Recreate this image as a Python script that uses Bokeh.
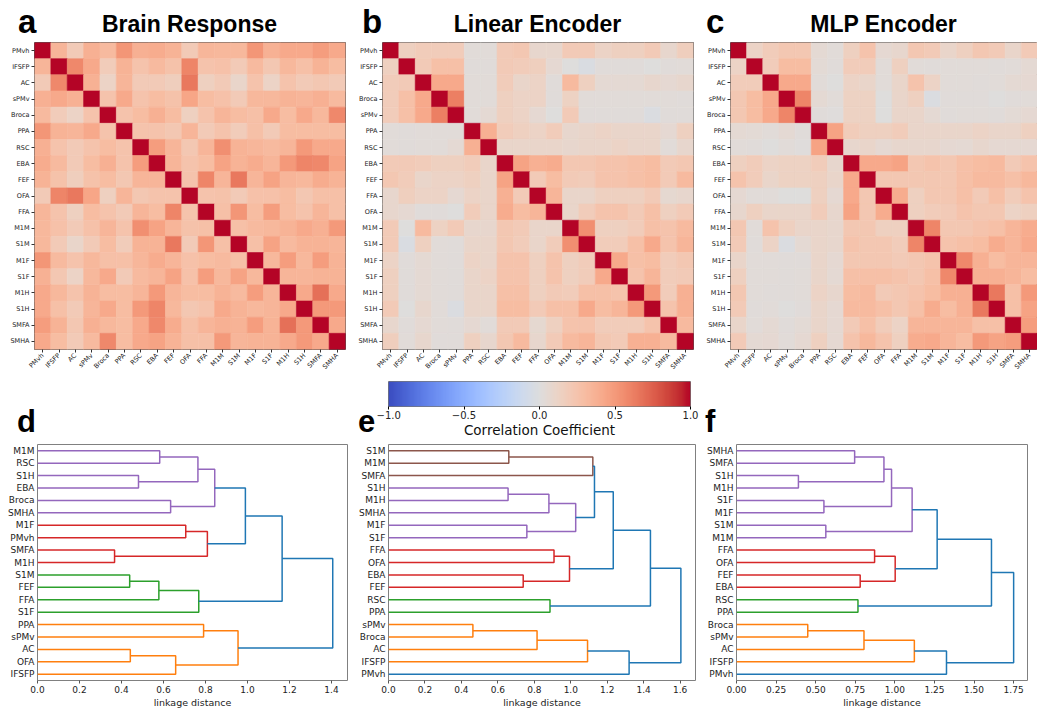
import numpy as np
from bokeh.plotting import figure
from bokeh.models import (ColumnDataSource, LinearColorMapper, FactorRange, Range1d,
                          FixedTicker, NumeralTickFormatter, Div)
from bokeh.layouts import column, row
from bokeh.embed import file_html
from bokeh.resources import INLINE

# ---------------- data ----------------
brain_labels = ["PMvh", "IFSFP", "AC", "sPMv", "Broca", "PPA", "RSC", "EBA", "FEF", "OFA",
                "FFA", "M1M", "S1M", "M1F", "S1F", "M1H", "S1H", "SMFA", "SMHA"]
linear_labels = ["PMvh", "IFSFP", "AC", "Broca", "sPMv", "PPA", "RSC", "EBA", "FEF", "FFA",
                 "OFA", "M1M", "S1M", "M1F", "S1F", "M1H", "S1H", "SMFA", "SMHA"]
mlp_labels = ["PMvh", "IFSFP", "AC", "sPMv", "Broca", "PPA", "RSC", "EBA", "FEF", "OFA",
              "FFA", "M1M", "S1M", "M1F", "S1F", "M1H", "S1H", "SMFA", "SMHA"]

panel_letters = ["a", "b", "c", "d", "e", "f"]
panel_titles = ["Brain Response", "Linear Encoder", "MLP Encoder"]

# upper triangles (row i holds correlations with the later columns)
brain_upper = [
    [0.35, 0.20, 0.38, 0.32, 0.52, 0.38, 0.40, 0.36, 0.20, 0.34, 0.33, 0.33, 0.52, 0.37, 0.42, 0.42, 0.48, 0.42],
    [0.58, 0.42, 0.18, 0.36, 0.25, 0.32, 0.26, 0.60, 0.25, 0.27, 0.20, 0.32, 0.22, 0.33, 0.28, 0.36, 0.30],
    [0.37, 0.12, 0.35, 0.20, 0.20, 0.17, 0.65, 0.15, 0.20, 0.10, 0.25, 0.12, 0.25, 0.20, 0.22, 0.20],
    [0.25, 0.42, 0.25, 0.30, 0.26, 0.43, 0.30, 0.27, 0.20, 0.33, 0.33, 0.36, 0.35, 0.38, 0.32],
    [0.25, 0.30, 0.38, 0.30, 0.15, 0.25, 0.35, 0.30, 0.28, 0.42, 0.30, 0.42, 0.33, 0.58],
    [0.25, 0.25, 0.22, 0.35, 0.20, 0.25, 0.18, 0.28, 0.20, 0.30, 0.30, 0.30, 0.30],
    [0.48, 0.35, 0.22, 0.35, 0.55, 0.36, 0.34, 0.32, 0.35, 0.50, 0.42, 0.42],
    [0.35, 0.25, 0.30, 0.45, 0.36, 0.40, 0.35, 0.50, 0.60, 0.58, 0.45],
    [0.25, 0.60, 0.35, 0.65, 0.35, 0.45, 0.35, 0.33, 0.40, 0.36],
    [0.25, 0.26, 0.20, 0.27, 0.27, 0.30, 0.22, 0.28, 0.28],
    [0.28, 0.52, 0.30, 0.48, 0.30, 0.25, 0.35, 0.28],
    [0.28, 0.32, 0.33, 0.36, 0.42, 0.38, 0.50],
    [0.28, 0.45, 0.32, 0.36, 0.36, 0.35],
    [0.33, 0.48, 0.33, 0.48, 0.36],
    [0.35, 0.35, 0.36, 0.36],
    [0.42, 0.68, 0.42],
    [0.50, 0.50],
    [0.42],
]
linear_upper = [
    [0.15, 0.18, 0.18, 0.18, 0.03, 0.03, 0.20, 0.22, 0.08, 0.08, 0.20, 0.20, 0.12, 0.15, 0.15, 0.20, 0.08, 0.17],
    [0.20, 0.28, 0.28, 0.02, 0.02, 0.20, 0.18, 0.16, 0.06, 0.00, -0.03, 0.02, 0.02, 0.02, 0.00, 0.02, 0.03],
    [0.42, 0.42, 0.03, 0.03, 0.18, 0.10, 0.12, 0.02, 0.32, 0.15, 0.05, 0.05, 0.05, 0.08, 0.06, 0.08],
    [0.62, 0.03, 0.03, 0.15, 0.12, 0.12, 0.02, 0.14, 0.03, 0.03, 0.03, 0.03, 0.03, 0.03, 0.02],
    [0.03, 0.05, 0.15, 0.12, 0.06, 0.00, 0.20, 0.02, 0.02, 0.02, 0.02, -0.02, 0.02, 0.02],
    [0.38, 0.18, 0.15, 0.12, 0.18, 0.08, 0.10, 0.12, 0.10, 0.10, 0.10, 0.06, 0.15],
    [0.10, 0.10, 0.10, 0.10, 0.08, 0.10, 0.10, 0.12, 0.10, 0.10, 0.03, 0.08],
    [0.45, 0.38, 0.40, 0.22, 0.22, 0.25, 0.25, 0.28, 0.30, 0.20, 0.22],
    [0.20, 0.30, 0.20, 0.18, 0.25, 0.25, 0.28, 0.30, 0.20, 0.32],
    [0.35, 0.10, 0.10, 0.15, 0.15, 0.15, 0.20, 0.07, 0.08],
    [0.10, 0.18, 0.25, 0.25, 0.20, 0.28, 0.15, 0.20],
    [0.55, 0.15, 0.15, 0.18, 0.28, 0.25, 0.32],
    [0.18, 0.18, 0.28, 0.42, 0.25, 0.35],
    [0.42, 0.28, 0.30, 0.18, 0.22],
    [0.25, 0.35, 0.18, 0.20],
    [0.50, 0.18, 0.38],
    [0.25, 0.38],
    [0.32],
]
mlp_upper = [
    [0.12, 0.18, 0.22, 0.22, 0.05, 0.03, 0.15, 0.25, 0.06, 0.08, 0.22, 0.20, 0.10, 0.15, 0.22, 0.20, 0.10, 0.20],
    [0.18, 0.30, 0.30, 0.04, 0.02, 0.18, 0.18, 0.03, 0.15, 0.03, 0.02, 0.03, 0.03, 0.03, 0.02, 0.03, 0.05],
    [0.42, 0.42, 0.03, 0.00, 0.12, 0.10, 0.03, 0.10, 0.25, 0.12, 0.03, 0.03, 0.02, 0.03, 0.05, 0.06],
    [0.60, 0.05, 0.03, 0.14, 0.14, 0.00, 0.10, 0.15, -0.02, 0.02, 0.02, 0.02, 0.00, 0.02, 0.03],
    [0.02, 0.01, 0.14, 0.14, 0.00, 0.10, 0.10, 0.05, 0.02, 0.03, 0.03, 0.02, 0.04, 0.06],
    [0.45, 0.18, 0.15, 0.15, 0.18, 0.10, 0.10, 0.10, 0.10, 0.12, 0.10, 0.10, 0.15],
    [0.08, 0.10, 0.06, 0.08, 0.08, 0.08, 0.06, 0.05, 0.08, 0.06, 0.06, 0.06],
    [0.42, 0.42, 0.45, 0.22, 0.25, 0.22, 0.28, 0.30, 0.32, 0.20, 0.25],
    [0.22, 0.22, 0.22, 0.22, 0.22, 0.28, 0.32, 0.32, 0.28, 0.33],
    [0.40, 0.15, 0.22, 0.22, 0.28, 0.20, 0.28, 0.18, 0.25],
    [0.15, 0.18, 0.20, 0.25, 0.22, 0.22, 0.12, 0.15],
    [0.60, 0.22, 0.22, 0.25, 0.28, 0.35, 0.40],
    [0.25, 0.28, 0.30, 0.40, 0.35, 0.42],
    [0.58, 0.38, 0.30, 0.35, 0.35],
    [0.38, 0.38, 0.35, 0.30],
    [0.65, 0.28, 0.50],
    [0.28, 0.45],
    [0.48],
]

# dendrograms: leaves listed top to bottom, merges as (left, right, height, colour group)
brain_leaves = ["M1M", "RSC", "S1H", "EBA", "Broca", "SMHA", "M1F", "PMvh", "SMFA", "M1H",
                "S1M", "FEF", "FFA", "S1F", "PPA", "sPMv", "AC", "OFA", "IFSFP"]
brain_left = ["M1M", "S1H", "#0", "Broca", "#2", "M1F", "SMFA", "#5", "#4", "S1M", "#9", "#10",
              "#8", "PPA", "AC", "#14", "#13", "#12"]
brain_right = ["RSC", "EBA", "#1", "SMHA", "#3", "PMvh", "M1H", "#6", "#7", "FEF", "FFA", "S1F",
               "#11", "sPMv", "OFA", "IFSFP", "#15", "#16"]
brain_height = [0.582, 0.481, 0.764, 0.634, 0.844, 0.706, 0.367, 0.809, 0.990, 0.439, 0.578, 0.768,
                1.165, 0.791, 0.442, 0.658, 0.955, 1.406]
brain_group = ["C4", "C4", "C4", "C4", "C4", "C3", "C3", "C3", "C0", "C2", "C2", "C2",
               "C0", "C1", "C1", "C1", "C1", "C0"]
brain_ticks = [0.0, 0.2, 0.4, 0.6, 0.8, 1.0, 1.2, 1.4]

linear_leaves = ["S1M", "M1M", "SMFA", "S1H", "M1H", "SMHA", "M1F", "S1F", "FFA", "OFA",
                 "EBA", "FEF", "RSC", "PPA", "sPMv", "Broca", "AC", "IFSFP", "PMvh"]
linear_left = ["S1M", "#0", "S1H", "#2", "M1F", "#3", "#1", "FFA", "EBA", "#7", "#6", "RSC",
               "#10", "sPMv", "#13", "#14", "#15", "#12"]
linear_right = ["M1M", "SMFA", "M1H", "SMHA", "S1F", "#4", "#5", "OFA", "FEF", "#8", "#9", "PPA",
                "#11", "Broca", "AC", "IFSFP", "PMvh", "#16"]
linear_height = [0.660, 1.121, 0.656, 0.880, 0.759, 1.027, 1.130, 0.908, 0.739, 0.993, 1.233, 0.886,
                 1.437, 0.463, 0.815, 1.092, 1.320, 1.604]
linear_group = ["C5", "C5", "C4", "C4", "C4", "C4", "C0", "C3", "C3", "C3", "C0", "C2",
                "C0", "C1", "C1", "C1", "C0", "C0"]
linear_ticks = [0.0, 0.2, 0.4, 0.6, 0.8, 1.0, 1.2, 1.4, 1.6]

mlp_leaves = ["SMHA", "SMFA", "S1H", "M1H", "S1F", "M1F", "S1M", "M1M", "FFA", "OFA",
              "FEF", "EBA", "RSC", "PPA", "Broca", "sPMv", "AC", "IFSFP", "PMvh"]
mlp_left = ["SMHA", "S1H", "#0", "S1F", "#2", "S1M", "#4", "FFA", "FEF", "#7", "#6", "RSC",
            "#10", "Broca", "#13", "#14", "#15", "#12"]
mlp_right = ["SMFA", "M1H", "#1", "M1F", "#3", "M1M", "#5", "OFA", "EBA", "#8", "#9", "PPA",
             "#11", "sPMv", "AC", "IFSFP", "PMvh", "#16"]
mlp_height = [0.746, 0.391, 0.931, 0.552, 0.979, 0.564, 1.109, 0.872, 0.781, 1.002, 1.267, 0.767,
              1.610, 0.450, 0.805, 1.123, 1.326, 1.750]
mlp_group = ["C4", "C4", "C4", "C4", "C4", "C4", "C4", "C3", "C3", "C3", "C0", "C2",
             "C0", "C1", "C1", "C1", "C0", "C0"]
mlp_ticks = [0.0, 0.25, 0.5, 0.75, 1.0, 1.25, 1.5, 1.75]

cbar_ticks = [-1.0, -0.5, 0.0, 0.5, 1.0]
cbar_tick_labels = ["\u22121.0", "\u22120.5", "0.0", "0.5", "1.0"]

# ---------------- styling helpers ----------------
TAB = {"C0": "#1f77b4", "C1": "#ff7f0e", "C2": "#2ca02c", "C3": "#d62728",
       "C4": "#9467bd", "C5": "#8c564b"}

CW = [(59, 76, 192), (68, 90, 204), (77, 104, 215), (87, 117, 225), (98, 130, 234),
      (108, 142, 241), (119, 154, 247), (130, 165, 251), (141, 176, 254), (152, 185, 255),
      (163, 194, 255), (174, 201, 253), (184, 208, 249), (194, 213, 244), (204, 217, 238),
      (213, 219, 230), (221, 221, 221), (229, 216, 209), (236, 211, 197), (241, 204, 185),
      (245, 196, 173), (247, 187, 160), (247, 177, 148), (247, 166, 135), (244, 154, 123),
      (241, 141, 111), (236, 127, 99), (229, 112, 88), (222, 96, 77), (213, 80, 66),
      (203, 62, 56), (192, 40, 47), (180, 4, 38)]


def coolwarm(n=256):
    arr = np.array(CW, float)
    t = np.linspace(0, 1, len(arr))
    out = []
    for v in np.linspace(0, 1, n):
        r, g, b = (np.interp(v, t, arr[:, k]) for k in range(3))
        out.append("#%02x%02x%02x" % (int(round(r)), int(round(g)), int(round(b))))
    return out


mapper = LinearColorMapper(palette=coolwarm(), low=-1, high=1)


def text_strip(width, height, items):
    """items: (left, top, font px, text, box width or None)"""
    spans = []
    for left, top, size, txt, box in items:
        extra = ("width:%dpx;text-align:center;" % box) if box else ""
        spans.append('<span style="position:absolute;left:%.1fpx;top:%.1fpx;font-size:%dpx;'
                     'line-height:%dpx;white-space:nowrap;%s">%s</span>'
                     % (left, top, size, size, extra, txt))
    html = ('<div style="position:relative;width:%dpx;height:%dpx;'
            "font-family:'Liberation Sans',Arial,sans-serif;font-weight:bold;color:#000;\">"
            % (width, height)) + "".join(spans) + "</div>"
    return Div(text=html, width=width, height=height, margin=(0, 0, 0, 0))


def full_matrix(upper):
    n = len(upper) + 1
    m = np.eye(n)
    for i, r in enumerate(upper):
        for k, v in enumerate(r):
            j = i + 1 + k
            m[i, j] = v
            m[j, i] = v
    return m


def heatmap(labels, upper, width, left, right):
    m = full_matrix(upper)
    xs, ys, vs = [], [], []
    for i, a in enumerate(labels):
        for j, b in enumerate(labels):
            xs.append(b)
            ys.append(a)
            vs.append(float(m[i, j]))
    src = ColumnDataSource(dict(x=xs, y=ys, v=vs))
    p = figure(width=width, height=335, x_range=FactorRange(factors=list(labels)),
               y_range=FactorRange(factors=list(labels)[::-1]), output_backend="svg",
               toolbar_location=None, min_border_left=left, min_border_right=right,
               min_border_top=1, min_border_bottom=23)
    p.rect(x="x", y="y", width=1, height=1, source=src,
           fill_color={"field": "v", "transform": mapper},
           line_color={"field": "v", "transform": mapper}, line_width=0.6)
    p.grid.grid_line_color = None
    p.outline_line_color = "#555555"
    p.axis.axis_line_color = None
    p.axis.major_tick_out = 3
    p.axis.major_tick_in = 0
    p.axis.major_tick_line_color = "#333333"
    p.axis.major_label_standoff = 2
    p.axis.major_label_text_font = "DejaVu Sans"
    p.axis.major_label_text_font_size = "6.5px"
    p.axis.major_label_text_color = "#222222"
    p.xaxis.major_label_orientation = np.pi / 4
    return p


def dendro(leaves, lefts, rights, heights, groups, ticks, fmt, width, lb, rb):
    n = len(leaves)
    ypos = {name: 10 * (n - 1 - i) + 5 for i, name in enumerate(leaves)}
    hpos = {name: 0.0 for name in leaves}
    xs, ys, cs = [], [], []
    for k, (a, b, h, g) in enumerate(zip(lefts, rights, heights, groups)):
        ya, yb = ypos[a], ypos[b]
        xs.append([hpos[a], h, h, hpos[b]])
        ys.append([ya, ya, yb, yb])
        cs.append(TAB[g])
        ypos["#%d" % k] = (ya + yb) / 2
        hpos["#%d" % k] = h
    xmax = max(heights) * 1.05
    p = figure(width=width, height=270, x_range=Range1d(0, xmax), y_range=Range1d(0, 10 * n),
               output_backend="svg", toolbar_location=None, min_border_left=lb,
               min_border_right=rb, min_border_top=4, min_border_bottom=27)
    p.multi_line(xs="xs", ys="ys", line_color="c", line_width=1.5,
                 source=ColumnDataSource(dict(xs=xs, ys=ys, c=cs)))
    p.grid.grid_line_color = None
    p.outline_line_color = "#808080"
    p.axis.axis_line_color = None
    p.axis.minor_tick_line_color = None
    p.axis.major_label_text_font = "DejaVu Sans"
    p.axis.major_label_text_font_size = "9px"
    p.axis.major_label_text_color = "#222222"
    p.yaxis.ticker = FixedTicker(ticks=[ypos[nm] for nm in leaves])
    p.yaxis.major_label_overrides = {ypos[nm]: nm for nm in leaves}
    p.yaxis.major_tick_out = 0
    p.yaxis.major_tick_in = 0
    p.yaxis.major_label_standoff = 3
    p.xaxis.ticker = FixedTicker(ticks=ticks)
    p.xaxis.formatter = NumeralTickFormatter(format=fmt)
    p.xaxis.major_tick_out = 3
    p.xaxis.major_tick_in = 0
    p.xaxis.major_tick_line_color = "#555555"
    p.xaxis.major_label_standoff = 2
    p.xaxis.axis_label = "linkage distance"
    p.xaxis.axis_label_text_font = "DejaVu Sans"
    p.xaxis.axis_label_text_font_size = "9.5px"
    p.xaxis.axis_label_text_font_style = "normal"
    p.xaxis.axis_label_text_color = "#222222"
    p.xaxis.axis_label_standoff = 1
    return p


# ---------------- title strip (baseline at y = 32) ----------------
top = text_strip(1037, 41, [
    (18, 5, 33, panel_letters[0], None),
    (189.5 - 150, 12.5, 23, panel_titles[0], 300),
    (362, 5, 33, panel_letters[1], None),
    (537.5 - 150, 12.5, 23, panel_titles[1], 300),
    (706, 5, 33, panel_letters[2], None),
    (883.5 - 150, 12.5, 23, panel_titles[2], 300),
])

# ---------------- heatmaps ----------------
pa = heatmap(brain_labels, brain_upper, 354, 34, 9)
pb = heatmap(linear_labels, linear_upper, 348, 28, 9)
pc = heatmap(mlp_labels, mlp_upper, 335, 28, 0)

# ---------------- colorbar row (letters baseline at page y = 432) ----------------
left_mid = text_strip(376, 64, [(17, 30, 31, panel_letters[3], None),
                                (358, 30, 31, panel_letters[4], None)])
right_mid = text_strip(335, 64, [(3, 30, 31, panel_letters[5], None)])

cb = figure(width=326, height=64, x_range=Range1d(-1, 1), y_range=Range1d(0, 1),
            output_backend="svg", toolbar_location=None,
            min_border_left=12, min_border_right=12, min_border_top=5, min_border_bottom=34)
cb.image(image=[np.linspace(-1, 1, 256).reshape(1, 256)], x=-1, y=0, dw=2, dh=1,
         color_mapper=mapper)
cb.yaxis.visible = False
cb.grid.grid_line_color = None
cb.outline_line_color = "#777777"
cb.xaxis.axis_line_color = None
cb.xaxis.ticker = FixedTicker(ticks=cbar_ticks)
cb.xaxis.major_label_overrides = {t: s for t, s in zip(cbar_ticks, cbar_tick_labels)}
cb.xaxis.major_tick_out = 3
cb.xaxis.major_tick_in = 0
cb.xaxis.minor_tick_line_color = None
cb.xaxis.major_label_standoff = 1
cb.xaxis.major_label_text_font = "DejaVu Sans"
cb.xaxis.major_label_text_font_size = "10px"
cb.xaxis.major_label_text_color = "#222222"
cb.xaxis.axis_label = "Correlation Coefficient"
cb.xaxis.axis_label_text_font = "DejaVu Sans"
cb.xaxis.axis_label_text_font_size = "13.5px"
cb.xaxis.axis_label_text_font_style = "normal"
cb.xaxis.axis_label_text_color = "#111111"
cb.xaxis.axis_label_standoff = 0

# ---------------- dendrograms ----------------
pd_ = dendro(brain_leaves, brain_left, brain_right, brain_height, brain_group, brain_ticks,
             "0.0", 356, 37, 9)
pe = dendro(linear_leaves, linear_left, linear_right, linear_height, linear_group, linear_ticks,
            "0.0", 348, 29, 9)
pf = dendro(mlp_leaves, mlp_left, mlp_right, mlp_height, mlp_group, mlp_ticks,
            "0.00", 333, 29, 10)

lay = column(top, row(pa, pb, pc), row(left_mid, cb, right_mid), row(pd_, pe, pf))
open("out.html", "w").write(file_html(lay, INLINE))
